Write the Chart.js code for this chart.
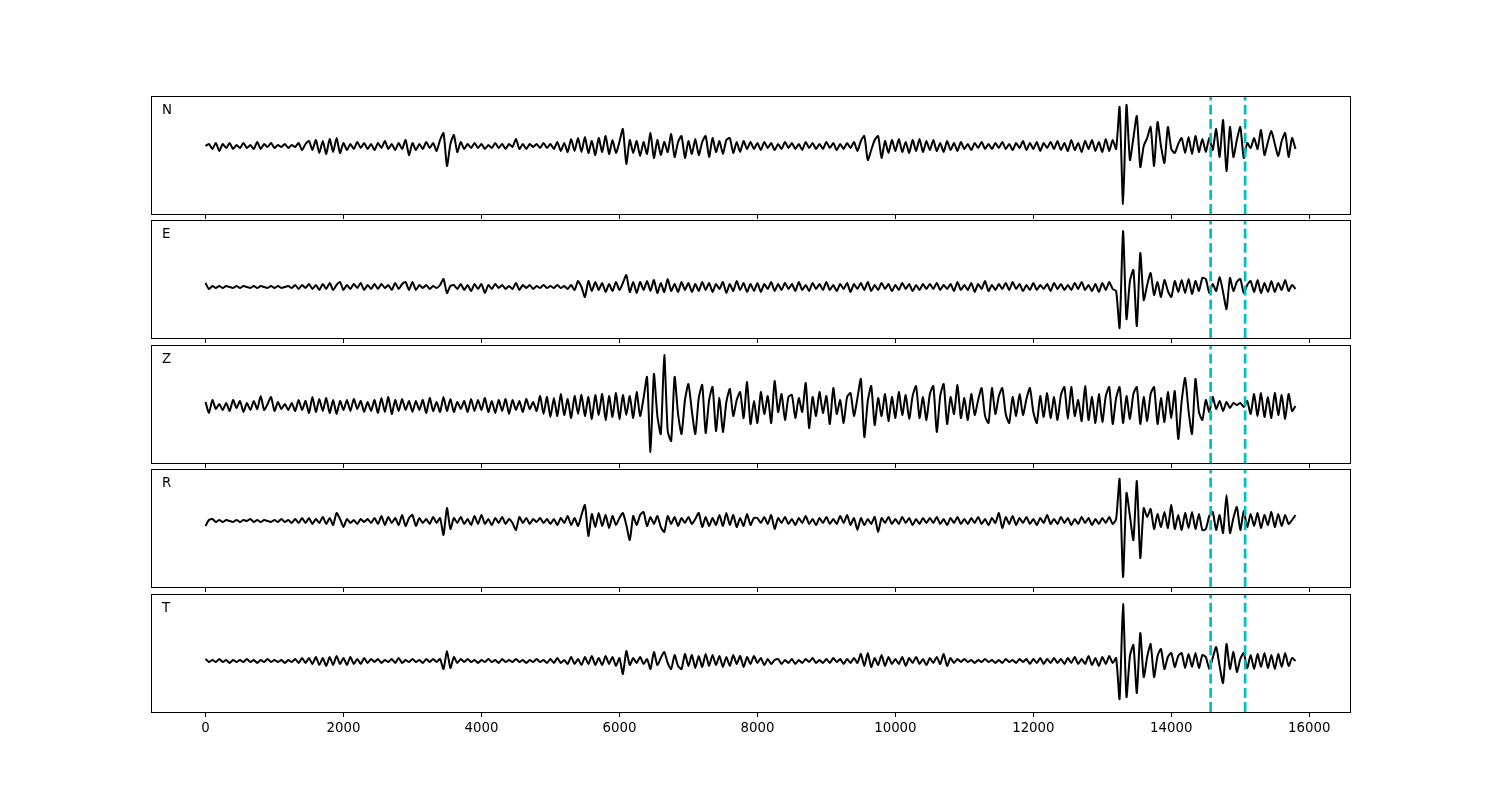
<!DOCTYPE html>
<html lang="en">
<head>
<meta charset="utf-8">
<title>N E Z R T traces</title>
<script src="https://cdn.jsdelivr.net/npm/chart.js@4.4.1/dist/chart.umd.min.js"></script>
<style>
  html, body { margin: 0; padding: 0; background: #fff; }
  #wrap { position: relative; width: 1500px; height: 800px; }
  #wrap canvas { position: absolute; left: 0; }
</style>
</head>
<body>
<div id="wrap"></div>
<script>
// sample spacing of the traces (x units)
const dt = 50;
const xTicks = [0, 2000, 4000, 6000, 8000, 10000, 12000, 14000, 16000];
const markers = [14570, 15070];

// one row = 500 x units (upward = positive)
const nData = [
  0, 2, -3, 3, -5, 2, -2, 3, -3, 1,
  -2, 3, -2, 1, -3, 4, -3, 2, -1, 3,
  -2, 1, -1, 2, -2, 1, -1, 3, -4, 2,
  5, -4, 6, -7, 5, -8, 7, -6, 8, -7,
  3, -4, 2, -3, 4, -2, 3, -3, 2, -4,
  3, -2, 5, -3, 2, -4, 3, -3, 6, -9,
  3, -4, 2, -3, 4, -2, 3, -5, 6, 13,
  -20, 2, 11, -6, 4, -3, 2, -2, 3, -2,
  2, -3, 1, -2, 3, -2, 2, -3, 2, -1,
  7, -3, 2, -3, 2, -1, 2, -2, 3, -2,
  2, -3, 4, -5, 3, -6, 7, -5, 8, -6,
  9, -7, 5, -9, 8, -6, 10, -8, 6, -7,
  4, 17, -18, 6, -7, 5, -10, 4, -8, 13,
  -12, 6, -9, 4, -6, 12, -11, 4, 10, -12,
  5, -8, 7, -9, 4, 10, -11, 8, -6, 5,
  -8, 6, 8, -7, 4, -6, 5, -3, 4, -3,
  3, -4, 4, -2, 3, -4, 2, -3, 4, -2,
  3, -3, 2, -4, 4, -2, 3, -3, 2, -3,
  4, -2, 3, -4, 2, -3, 3, -2, 4, -5,
  5, 10, -14, -4, 6, 10, -12, 5, -7, 6,
  -5, 7, -6, 4, -7, 6, -5, 7, -6, 5,
  -4, 6, -5, 3, -6, 5, -4, 3, -5, 4,
  -3, 2, -4, 3, -2, 4, -3, 2, -3, 3,
  -2, 4, -3, 2, -4, 3, -2, 5, -4, 3,
  -3, 4, -5, 3, -2, 4, -3, 5, -4, 3,
  -5, 6, -4, 3, -6, 5, -3, 6, -5, 4,
  -6, 7, -5, 6, -3, 39, -58, 41, -14, 8,
  30, -21, 0, 8, 19, -20, 24, 0, -17, 19,
  -3, -7, 2, 8, -7, 9, -8, 10, -6, 7,
  -6, 8, -4, 17, -11, 26, -25, 19, -11, 6,
  19, -12, 3, -2, 8, -3, 16, -9, 4, 15,
  2, -10, 5, 13, -11, 8, -3
];
const eData = [
  4, -2, 1, -1, 1, -1, 1, 0, -1, 1,
  -1, 1, 0, -1, 1, -1, 1, 0, -1, 1,
  -1, 1, -1, 0, 1, -1, 2, -2, 2, -1,
  3, -2, 2, -3, 3, -2, 4, -3, 2, 5,
  -3, 2, -2, 3, -1, 4, -3, 2, -2, 3,
  -2, 3, -1, 2, -3, 4, -2, 3, 5, -3,
  5, -3, 2, -1, 2, -2, 1, -1, 2, 8,
  -6, 1, 2, -2, 3, -3, 2, -4, 3, -2,
  3, -6, 2, -2, 3, -1, 2, -2, 1, -2,
  4, -3, 2, -1, 2, -2, 1, -1, 2, -1,
  1, -1, 2, -1, 1, -2, 2, -3, 6, 0,
  -10, 6, -4, 5, -3, 4, -5, 3, -4, 5,
  -3, 4, 12, -5, 5, -6, 5, -3, 6, -4,
  7, -6, 4, -5, 8, -4, 3, -5, 5, -3,
  4, -5, 3, -4, 5, -3, 4, -5, 3, -2,
  5, -6, 3, -4, 6, -3, 4, -5, 3, -4,
  4, -5, 3, -2, 5, -4, 3, -3, 4, -2,
  3, -4, 5, -3, 2, -4, 4, -2, 3, -3,
  5, -3, 2, -4, 3, -2, 4, -5, 3, -2,
  4, -3, 5, -4, 2, -3, 4, -2, 3, -4,
  2, -3, 4, -2, 3, -4, 2, -3, 3, -2,
  3, -2, 4, -3, 2, -2, 3, -4, 5, -3,
  2, -3, 4, -5, 3, -2, 6, -4, 2, -3,
  3, -2, 4, -3, 5, -2, 3, -4, 2, -3,
  4, -3, 2, -2, 3, -4, 4, -2, 3, -3,
  2, -3, 4, -2, 5, -3, 2, -4, 3, -5,
  4, -3, 5, -2, -4, -41, 56, -32, 6, 17,
  -39, 34, -13, 2, 14, -8, 5, -10, 7, -4,
  -10, 6, -5, 7, -6, 8, -7, 6, -4, 9,
  8, -6, 3, -4, 10, -5, -22, 9, -4, 5,
  8, -6, 2, 6, -5, 7, -6, 4, -5, 6,
  -5, 4, -3, 7, -4, 2, -2
];
const zData = [
  4, -7, 6, -3, 2, -4, 3, -5, 6, -2,
  5, -6, 3, -4, 5, -3, 10, -4, 2, 9,
  -5, 4, -3, 2, -4, 3, -5, 6, -4, 5,
  -7, 9, -6, 7, -5, 8, -7, 6, -8, 5,
  -4, 6, -5, 7, -3, 5, -6, 4, -5, 6,
  -7, 8, -6, 9, -8, 6, -5, 7, -4, 5,
  -6, 5, -4, 6, -7, 8, -5, 4, -6, 9,
  -5, 7, -6, 4, -3, 5, -6, 7, -5, 6,
  -4, 8, -6, 5, -7, 6, -5, 7, -8, 6,
  -4, 5, -6, 7, -3, 4, -5, 10, -8, 9,
  -11, 8, -10, 12, -9, 7, -12, 10, -8, 11,
  -10, 9, -13, 11, -9, 12, -14, 10, -11, 13,
  -13, 11, -9, 10, -12, 14, -10, 8, 29, -46,
  32, -10, -28, 51, -25, -35, 29, -8, -28, 6,
  22, -5, -28, 8, 21, -27, 6, 19, -25, 8,
  -26, 4, 17, -10, 6, 14, -12, 24, -18, 5,
  -17, 14, -8, 10, -17, 25, -6, 12, -14, 9,
  11, -12, 8, -6, 23, -22, 9, -10, 14, -7,
  10, -18, 18, -8, 6, -17, 9, 13, -10, 8,
  27, -31, 5, 20, -19, 8, -10, 12, -15, 9,
  -12, 14, -9, 11, -13, 10, 20, -12, 9, -14,
  12, 20, -26, 10, 22, -18, 9, -8, 21, -12,
  8, -14, 12, -9, 6, 18, -10, -17, 18, -8,
  10, 18, -8, -17, 9, -10, 12, -9, 7, 18,
  -6, -17, 10, -11, 13, -12, 9, -14, 11, 19,
  -13, 19, -10, 6, -15, 20, -14, 9, -17, 12,
  -16, 10, 19, -18, 8, 19, -17, 10, -13, 12,
  19, -18, 9, -15, 12, 19, -18, 8, -16, 14,
  -12, 15, -33, 5, 28, -5, -28, 27, -6, -14,
  6, -6, 9, -3, 5, -5, 4, -2, 3, 1,
  3, -1, 5, -8, 12, -10, 13, -11, 9, -12,
  13, -9, 11, -13, 12, -5, 0
];
const rData = [
  -5, 1, 2, -1, 1, -1, 1, 0, -1, 1,
  -1, 1, 0, 2, -1, 1, -1, 1, 0, -1,
  1, -1, 2, -1, 1, -2, 2, -2, 3, -2,
  3, -3, 2, -2, 4, -3, 3, -4, 8, 2,
  -6, 2, -2, 1, -3, 2, -1, 2, -2, 3,
  -3, 5, -4, 4, -2, 3, -4, 6, -5, 3,
  6, -5, 3, -2, 2, -3, 4, -2, 3, -14,
  13, -8, 3, -2, 4, -3, 2, -4, 5, -3,
  6, -3, 2, -4, 3, -2, 4, -3, 2, -2,
  -9, 4, -2, 3, -3, 2, -1, 3, -2, 2,
  -3, 2, -4, 3, -2, 5, -4, 3, -5, 6,
  16, -15, 7, -6, 8, -5, 6, -7, 5, -4,
  3, 8, -4, -19, 5, -4, 6, 9, -5, 4,
  -3, 5, -6, -11, 5, -3, 4, -5, 3, -2,
  4, -3, 2, 8, -6, 4, -5, 3, -4, 6,
  -5, 8, -4, 6, -6, 3, -5, 7, -4, 3,
  3, -2, 4, -3, 6, -8, 3, -2, 4, -3,
  2, -4, 3, -2, 5, -3, 2, -4, 3, -2,
  4, -3, 2, -3, 5, -2, 6, -4, 3, -9,
  3, -4, 2, -3, 4, -11, 3, -2, 4, -3,
  2, -3, 4, -2, 3, -4, 2, -3, 3, -2,
  3, -2, 4, -3, 2, -4, 3, -2, 4, -3,
  2, -3, 3, -2, 4, -3, 2, -4, 3, -2,
  8, -7, 4, -3, 5, -4, 3, -2, 4, -3,
  2, -4, 3, -2, 6, -3, 2, -3, 4, -2,
  3, -4, 2, -3, 4, -2, 3, -4, 2, -3,
  3, -2, 4, -3, 2, 42, -56, 28, 5, -19,
  40, -37, 13, 4, 12, -8, 7, -6, 9, -7,
  16, -8, 6, -9, 8, -7, 9, -8, 7, -9,
  -8, 5, 9, -9, 6, -12, 26, -12, 3, 14,
  -9, 10, -6, 7, -5, 8, -7, 6, -4, 9,
  -6, 7, -5, 6, -3, 1, 6
];
const tData = [
  2, -1, 1, -1, 2, -1, 1, -2, 1, -1,
  1, -1, 2, -1, 1, -2, 1, -1, 2, -1,
  1, -1, 1, -2, 1, -1, 2, -2, 3, -2,
  3, -3, 4, -4, 3, -5, 4, -4, 5, -3,
  3, -4, 4, -3, 2, -3, 3, -2, 2, -1,
  2, -2, 1, -1, 2, -2, 3, -2, 1, -1,
  2, -1, 1, -2, 2, -1, 2, -1, 2, -8,
  10, -7, 4, -2, 2, -1, 2, -1, 1, -2,
  1, -1, 2, -1, 1, -2, 2, -1, 1, -1,
  2, -1, 1, -2, 1, -1, 2, -1, 1, -2,
  2, -2, 3, -2, 1, -3, 4, -3, 2, -4,
  4, -3, 5, -4, 3, -4, 5, -3, 4, -5,
  3, -13, 10, -4, 3, -2, 4, -3, 2, -8,
  9, -4, 3, 9, -2, -8, 6, -5, -8, 7,
  -5, 6, -7, 5, -6, 7, -5, 6, -4, 5,
  -6, 4, -5, 6, -3, 5, -6, 4, -3, 5,
  -2, 3, -4, 2, -3, 1, 2, -3, 1, -2,
  2, -3, 1, -2, 2, -1, 3, -2, 1, -2,
  2, -2, 3, -1, 2, -3, 2, -2, 3, -2,
  7, -5, 8, -6, 3, -4, 6, -5, 4, -3,
  2, -3, 4, -5, 3, -2, 4, -3, 2, -4,
  3, -2, 4, -3, 7, -5, 3, -2, 2, -1,
  2, -1, 1, -2, 1, -1, 2, -1, 1, -2,
  1, -2, 2, -1, 1, -2, 2, -1, 2, -3,
  2, -2, 3, -3, 2, -2, 3, -2, 2, -3,
  3, -2, 4, -3, 2, -3, 5, -4, 3, -5,
  4, -3, 5, -2, 3, -38, 57, -36, 5, 16,
  -32, 28, -16, 4, 17, -16, 5, 12, -8, 4,
  8, -6, 5, 8, -7, 7, -6, 8, -7, 6,
  4, -8, 3, 14, -5, -22, 17, -8, 9, -11,
  2, 8, -7, 6, -8, 7, -6, 8, -7, 6,
  -8, 7, -6, 8, -5, 3, 0
];

const names = ['N', 'E', 'Z', 'R', 'T'];
const series = [nData, eData, zData, rData, tData];

// layout (pixels)
const tops = [96, 220, 345, 469, 594];
const bases = [50, 67, 61, 52, 67];   // zero line, from panel top
const panelH = 118;
const padTop = 4;

const frame = {
  id: 'frame',
  afterDraw(chart, args, opts) {
    const { ctx, chartArea: a } = chart;
    ctx.save();
    ctx.strokeStyle = '#000';
    ctx.lineWidth = 1;
    ctx.strokeRect(a.left + 0.5, a.top + 0.5, a.right - a.left, a.bottom - a.top);
    ctx.fillStyle = '#000';
    ctx.font = '13.33px "DejaVu Sans"';
    ctx.textBaseline = 'alphabetic';
    ctx.fillText(opts.label, a.left + 11, a.top + 17.5);
    ctx.restore();
  }
};

const wrap = document.getElementById('wrap');

names.forEach((name, k) => {
  const last = k === names.length - 1;
  const axisH = last ? 30 : 6;
  const cv = document.createElement('canvas');
  cv.width = 1500;
  cv.height = padTop + panelH + axisH;
  cv.style.top = (tops[k] - padTop) + 'px';
  wrap.appendChild(cv);

  const yMin = -(panelH - bases[k]);
  const yMax = bases[k];
  const trace = series[k].map((v, i) => ({ x: i * dt, y: v }));

  const dashed = markers.map(m => ({
    data: [{ x: m, y: yMin }, { x: m, y: yMax }],
    borderColor: '#00bfbf',
    borderWidth: 2.7,
    borderDash: [9.9, 4.3],
    pointRadius: 0
  }));

  new Chart(cv, {
    type: 'line',
    data: {
      datasets: [
        ...dashed,
        {
          data: trace,
          borderColor: '#000',
          borderWidth: 2,
          pointRadius: 0,
          tension: 0.2,
          borderJoinStyle: 'round'
        }
      ]
    },
    options: {
      responsive: false,
      animation: false,
      devicePixelRatio: 1,
      layout: { padding: { left: 151, right: 150, top: padTop, bottom: 0 } },
      plugins: {
        legend: { display: false },
        tooltip: { enabled: false },
        frame: { label: name }
      },
      scales: {
        x: {
          type: 'linear',
          min: -790,
          max: 16590,
          afterBuildTicks: s => { s.ticks = xTicks.map(v => ({ value: v })); },
          afterFit: s => { s.height = axisH; },
          border: { display: false },
          grid: { drawOnChartArea: false, drawTicks: true, tickLength: 5, color: '#000', lineWidth: 1 },
          ticks: {
            display: last,
            color: '#000',
            padding: 4,
            maxRotation: 0,
            autoSkip: false,
            font: { family: "'DejaVu Sans', sans-serif", size: 13.33 },
            callback: v => String(v)
          }
        },
        y: { display: false, min: yMin, max: yMax }
      }
    },
    plugins: [frame]
  });
});
</script>
</body>
</html>
